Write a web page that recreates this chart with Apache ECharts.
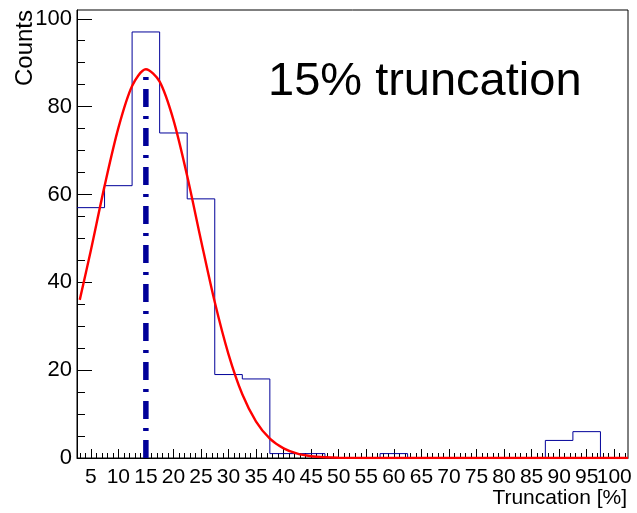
<!DOCTYPE html>
<html>
<head>
<meta charset="utf-8">
<script src="https://cdn.jsdelivr.net/npm/echarts@6/dist/echarts.min.js"></script>
<style>
html,body{margin:0;padding:0;background:#fff;}
#c{width:637px;height:513px;}
</style>
</head>
<body>
<div id="c"></div>
<script>
// ---- data ----
const binCenters = [5,10,15,20,25,30,35,40,45,50,55,60,65,70,75,80,85,90,95,100];
const counts     = [57,62,97,74,59,19,18,1,1,0,0,1,0,0,0,0,0,4,6,0];
const binWidth = 5;

const fitX = [3,5,7.5,10,12.5,15,17.5,20,22.5,25,27.5,30,32.5,35,37.5,40,42.5,45,47.5,50,55,102.5];
const fitY = [36.0,47.2,61.9,75.1,84.7,88.5,85.7,77.0,64.2,49.6,35.5,23.6,14.5,8.3,4.4,2.2,0.98,0.41,0.16,0.06,0,0];

const markerX = [15,15];
const markerY = [0,88.5];

const xTickLabels = [5,10,15,20,25,30,35,40,45,50,55,60,65,70,75,80,85,90,95,100];
const yTickLabels = [0,20,40,60,80,100];
const yMinorTicks = [0,5,10,15,20,25,30,35,40,45,50,55,60,65,70,75,80,85,90,95,100];

const annotation = '15% truncation';
const xTitle = 'Truncation [%]';
const yTitle = 'Counts';

// ---- build ----
const xMin = binCenters[0] - binWidth/2;
const xMax = binCenters[binCenters.length-1] + binWidth/2;
const histData = binCenters.map((c,i)=>[c - binWidth/2, counts[i]]);
histData.push([xMax, counts[counts.length-1]]);
const xMinor = [];
for (let v = Math.ceil(xMin); v <= Math.floor(xMax); v++) xMinor.push(v);
// split labels over two axes so neighbouring crowded labels are not auto-hidden
const xLabelsA = xTickLabels.filter((v,i)=>i%2===0);
const xLabelsB = xTickLabels.filter((v,i)=>i%2===1);

const FONT = "'Liberation Sans', Arial, sans-serif";
const labelStyle = {show:true,margin:9,color:'#000',fontSize:21,fontFamily:FONT,hideOverlap:false,showMinLabel:true,showMaxLabel:true};
const chart = echarts.init(document.getElementById('c'), null, {renderer:'canvas'});
chart.setOption({
  animation:false,
  backgroundColor:'#fff',
  grid:{left:77,right:9,top:10,bottom:55,show:true,borderColor:'#000',borderWidth:1,backgroundColor:'transparent'},
  xAxis:[
    {type:'value',min:xMin,max:xMax,
      axisLine:{show:true,lineStyle:{color:'#000',width:1}},
      axisTick:{show:true,inside:true,length:9,customValues:xTickLabels,lineStyle:{color:'#000'}},
      axisLabel:Object.assign({customValues:xLabelsA},labelStyle),
      splitLine:{show:false}},
    {type:'value',min:xMin,max:xMax,position:'bottom',
      axisLine:{show:false},
      axisTick:{show:true,inside:true,length:5,customValues:xMinor,lineStyle:{color:'#000'}},
      axisLabel:Object.assign({customValues:xLabelsB},labelStyle),
      splitLine:{show:false}}
  ],
  yAxis:[
    {type:'value',min:0,max:102,
      axisLine:{show:true,lineStyle:{color:'#000',width:1}},
      axisTick:{show:true,inside:true,length:15,customValues:yTickLabels,lineStyle:{color:'#000'}},
      axisLabel:{show:true,customValues:yTickLabels,margin:5,color:'#000',fontSize:22,fontFamily:FONT,
        showMinLabel:true,showMaxLabel:true},
      splitLine:{show:false}},
    {type:'value',min:0,max:102,position:'left',
      axisLine:{show:false},
      axisTick:{show:true,inside:true,length:8,customValues:yMinorTicks,lineStyle:{color:'#000'}},
      axisLabel:{show:false},splitLine:{show:false}}
  ],
  graphic:[
    {type:'text',left:268,top:59,style:{text:annotation,fill:'#000',font:'47px '+FONT}},
    {type:'text',x:627,y:498,style:{text:xTitle,fill:'#000',font:'21px '+FONT,align:'right',verticalAlign:'middle'}},
    {type:'text',x:25,y:10,rotation:Math.PI/2,style:{text:yTitle,fill:'#000',font:'24px '+FONT,align:'right',verticalAlign:'middle'}}
  ],
  series:[
    {type:'line',step:'end',data:histData,xAxisIndex:0,yAxisIndex:0,showSymbol:false,
      lineStyle:{color:'#000099',width:1},z:2},
    {type:'line',data:fitX.map((x,i)=>[x,fitY[i]]),xAxisIndex:0,yAxisIndex:0,showSymbol:false,smooth:0.3,
      lineStyle:{color:'#ff0000',width:2.4},z:3},
    {type:'line',data:markerX.map((x,i)=>[x,markerY[i]]),xAxisIndex:0,yAxisIndex:0,showSymbol:false,
      lineStyle:{color:'#000099',width:5.5,type:[18,9,3,9]},z:4}
  ]
});
</script>
</body>
</html>
